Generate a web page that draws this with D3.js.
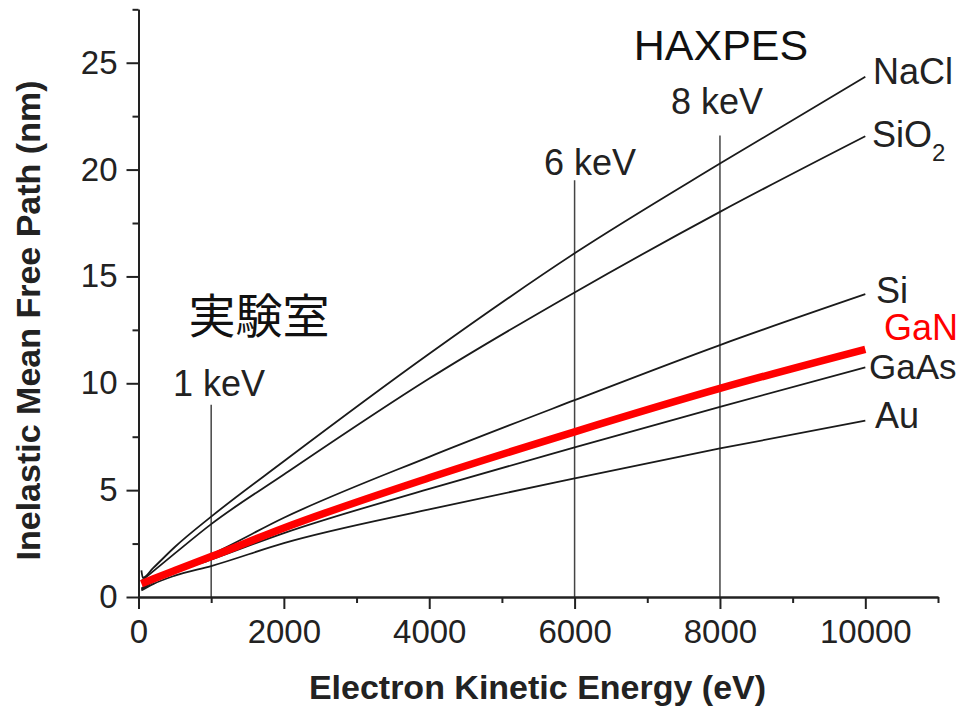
<!DOCTYPE html>
<html>
<head>
<meta charset="utf-8">
<script src="https://cdn.jsdelivr.net/npm/d3@7"></script>
<style>
  html, body { margin: 0; padding: 0; background: #fff; }
  svg { display: block; font-family: "Liberation Sans", Arial, sans-serif; }
</style>
</head>
<body>
<svg id="chart" width="965" height="710"></svg>
<script>
// Electron kinetic energy (eV) sample points and IMFP (nm) per material
const naclE  = [40, 60, 200, 500, 1000, 2000, 4000, 6000, 8000, 10000];
const naclV  = [1.25, 0.9, 1.35, 2.34, 3.76, 6.35, 11.38, 16.08, 20.28, 24.34];
const energies = [40, 200, 500, 1000, 2000, 4000, 6000, 8000, 10000];
const sio2V  = [0.75, 1.2, 2.04, 3.41, 5.73, 10.22, 14.25, 18.02, 21.56];
const siV    = [0.4, 0.75, 1.3, 2.0, 3.71, 6.56, 9.21, 11.79, 14.17];
const ganV   = [0.62, 0.84, 1.24, 1.89, 3.23, 5.58, 7.73, 9.76, 11.59];
const gaasV  = [0.35, 0.7, 1.15, 1.75, 2.99, 5.06, 7.0, 8.9, 10.74];
const auV    = [0.3, 0.6, 1.0, 1.45, 2.52, 4.1, 5.55, 6.95, 8.25];

// Axis ticks
const xMajorTicks = [0, 2000, 4000, 6000, 8000, 10000];
const xMinorTicks = [1000, 3000, 5000, 7000, 9000, 11000];
const yMajorTicks = [0, 5, 10, 15, 20, 25];
const yMinorTicks = [2.5, 7.5, 12.5, 17.5, 22.5, 27.5];

// Photon-energy markers
const markerE = [1000, 6000, 8000];
const markerLabels = ["1 keV", "6 keV", "8 keV"];
const markerTop = [9.0, 19.5, 21.6];

const svg = d3.select("#chart");
const x = d3.scaleLinear().domain([0, 11000]).range([138.5, 938]);
const y = d3.scaleLinear().domain([0, 27.5]).range([597, 9.3]);

const axisColor = "#222";

// vertical reference lines
svg.append("g").selectAll("line").data(markerE).join("line")
  .attr("x1", d => x(d)).attr("x2", d => x(d))
  .attr("y1", (d, i) => y(markerTop[i])).attr("y2", y(0))
  .attr("stroke", "#444").attr("stroke-width", 1.5);

// curves
const line = d3.line()
  .x(d => x(d[0])).y(d => y(d[1]))
  .curve(d3.curveMonotoneX);

const blackSeries = [
  d3.zip(naclE, naclV),
  d3.zip(energies, sio2V),
  d3.zip(energies, siV),
  d3.zip(energies, gaasV),
  d3.zip(energies, auV)
];
svg.append("g").selectAll("path").data(blackSeries).join("path")
  .attr("d", line)
  .attr("fill", "none")
  .attr("stroke", "#1a1a1a")
  .attr("stroke-width", 1.8);

svg.append("path")
  .attr("d", line(d3.zip(energies, ganV)))
  .attr("fill", "none")
  .attr("stroke", "#ff0000")
  .attr("stroke-width", 7.5);

// axes
function styleAxis(g) {
  g.selectAll(".domain").attr("stroke", axisColor).attr("stroke-width", 2);
  g.selectAll(".tick line").attr("stroke", axisColor).attr("stroke-width", 2);
  g.selectAll(".tick text").attr("fill", "#222")
    .style("font-size", "33px").style("font-family", "'Liberation Sans', Arial, sans-serif");
}

svg.append("g").attr("transform", `translate(0,${y(0)})`)
  .call(d3.axisBottom(x).tickValues(xMinorTicks).tickSize(6).tickSizeOuter(0).tickFormat(""))
  .call(styleAxis);
svg.append("g").attr("transform", `translate(0,${y(0)})`)
  .call(d3.axisBottom(x).tickValues(xMajorTicks).tickSize(12).tickSizeOuter(0).tickPadding(11).tickFormat(d3.format("d")))
  .call(styleAxis);

svg.append("g").attr("transform", `translate(${x(0)},0)`)
  .call(d3.axisLeft(y).tickValues(yMinorTicks).tickSize(6).tickSizeOuter(0).tickFormat(""))
  .call(styleAxis);
svg.append("g").attr("transform", `translate(${x(0)},0)`)
  .call(d3.axisLeft(y).tickValues(yMajorTicks).tickSize(12).tickSizeOuter(0).tickPadding(9).tickFormat(d3.format("d")))
  .call(styleAxis);

// axis titles
svg.append("text")
  .attr("x", 537.5).attr("y", 699)
  .attr("text-anchor", "middle")
  .attr("font-weight", "bold").attr("font-size", 34).attr("fill", "#222")
  .text("Electron Kinetic Energy (eV)");

svg.append("text")
  .attr("transform", "translate(40,320.5) rotate(-90)")
  .attr("text-anchor", "middle")
  .attr("font-weight", "bold").attr("font-size", 34).attr("fill", "#222")
  .text("Inelastic Mean Free Path (nm)");

// marker labels
const markerLabelPos = [[219, 396], [590, 175], [717, 114]];
svg.append("g").selectAll("text").data(markerLabels).join("text")
  .attr("x", (d, i) => markerLabelPos[i][0]).attr("y", (d, i) => markerLabelPos[i][1])
  .attr("text-anchor", "middle").attr("font-size", 36).attr("fill", "#222")
  .text(d => d);

svg.append("text").attr("x", 721).attr("y", 60)
  .attr("text-anchor", "middle").attr("font-size", 43).attr("fill", "#111")
  .text("HAXPES");

svg.append("text").attr("x", 259).attr("y", 333)
  .attr("text-anchor", "middle").attr("font-size", 47).attr("fill", "#111")
  .style("font-family", "'Noto Sans CJK JP', sans-serif")
  .text("実験室");

// material labels
const matLabels = ["NaCl", "Si", "GaAs", "Au"];
const matPos = [[873, 83.5], [876, 303], [869, 379], [875, 428]];
const matSize = [36, 36, 35, 36];
svg.append("g").selectAll("text").data(matLabels).join("text")
  .attr("x", (d, i) => matPos[i][0]).attr("y", (d, i) => matPos[i][1])
  .attr("font-size", (d, i) => matSize[i]).attr("fill", "#222")
  .text(d => d);

const sio2 = svg.append("text").attr("x", 872).attr("y", 147)
  .attr("font-size", 36).attr("fill", "#222");
sio2.append("tspan").text("SiO");
sio2.append("tspan").attr("font-size", 24).attr("dy", 14).text("2");

svg.append("text").attr("x", 884).attr("y", 340)
  .attr("font-size", 36).attr("fill", "#ff0000")
  .text("GaN");
</script>
</body>
</html>
